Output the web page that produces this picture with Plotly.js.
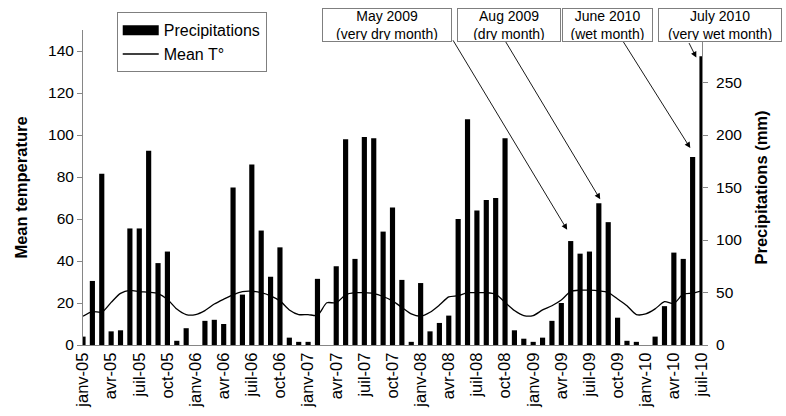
<!DOCTYPE html>
<html>
<head>
<meta charset="utf-8">
<script src="https://cdn.plot.ly/plotly-3.0.1.min.js"></script>
<style>html,body{margin:0;padding:0;background:#fff}#chart{width:786px;height:416px}</style>
</head>
<body>
<div id="chart"></div>
<script>
// Monthly categories Jan 2005 .. Jul 2010
const months = [
 "janv-05","févr-05","mars-05","avr-05","mai-05","juin-05","juil-05","août-05","sept-05","oct-05","nov-05","déc-05",
 "janv-06","févr-06","mars-06","avr-06","mai-06","juin-06","juil-06","août-06","sept-06","oct-06","nov-06","déc-06",
 "janv-07","févr-07","mars-07","avr-07","mai-07","juin-07","juil-07","août-07","sept-07","oct-07","nov-07","déc-07",
 "janv-08","févr-08","mars-08","avr-08","mai-08","juin-08","juil-08","août-08","sept-08","oct-08","nov-08","déc-08",
 "janv-09","févr-09","mars-09","avr-09","mai-09","juin-09","juil-09","août-09","sept-09","oct-09","nov-09","déc-09",
 "janv-10","févr-10","mars-10","avr-10","mai-10","juin-10","juil-10"
];
// Precipitations (mm)
const precipitations = [
 8, 61, 163, 13, 14, 111, 111, 185, 78, 89, 4, 16,
 0, 23, 24, 20, 150, 48, 172, 109, 65, 93, 7, 3,
 3, 63, 0, 75, 196, 82, 198, 197, 108, 131, 62, 3,
 59, 13, 21, 28, 120, 215, 128, 138, 140, 197, 14, 6,
 3, 7, 23, 40, 99, 87, 89, 135, 117, 26, 4, 3,
 0, 8, 37, 88, 82, 179, 275
];
// Mean temperature (°C)
const meanT = [
 13.7, 15.9, 15.6, 20.3, 24.6, 26.0, 25.4, 25.1, 24.5, 21.8, 17.1, 14.5,
 14.5, 16.4, 19.5, 21.8, 23.9, 25.4, 25.6, 24.9, 23.4, 21.0, 16.7, 14.5,
 14.5, 14.1, 20.1, 20.1, 23.9, 24.9, 24.9, 24.5, 23.1, 21.0, 17.9, 14.8,
 13.7, 15.6, 19.0, 22.9, 23.5, 24.9, 24.9, 24.9, 24.2, 20.3, 16.4, 14.0,
 14.0, 16.7, 18.7, 21.4, 25.5, 26.1, 26.1, 25.8, 25.0, 21.9, 18.7, 14.5,
 14.8, 17.2, 20.6, 19.8, 24.2, 24.7, 25.8
];
// Tick labels every 3 months, tick marks every 4 months
const labelMonths = months.filter((m, i) => i % 3 === 0);
const tickMarkIdx = [0,4,8,12,16,20,24,28,32,36,40,44,48,52,56,60,64];
const tempTicks = [0,20,40,60,80,100,120,140];
const precTicks = [0,50,100,150,200,250];

const FONT = "Liberation Sans, Arial, sans-serif";
const AX = "#868686";

const traces = [
 {type:"bar", name:"Precipitations", x:months, y:precipitations, xaxis:"x", yaxis:"y",
  marker:{color:"#000000", line:{width:0}}, width:0.55, showlegend:false},
 // legend entry for the bars, drawn as a wide black block like the original legend key
 {type:"scatter", mode:"lines", name:"Precipitations", x:[null], y:[null], xaxis:"x", yaxis:"y",
  line:{color:"#000000", width:12}, hoverinfo:"skip"},
 {type:"scatter", mode:"lines", name:"Mean T°", x:months, y:meanT, xaxis:"x", yaxis:"y2",
  line:{color:"#000000", width:1.3, shape:"spline", smoothing:0.7}}
];

const W = 618.4, H = 320, L = 83.3, T = 25;
function px(x){return (x - L)/W;}
function py(y){return (T + H - y)/H;}

const boxes = [
 {t:"May 2009<br>(very dry month)", x0:322, x1:452},
 {t:"Aug 2009<br>(dry month)", x0:457, x1:561},
 {t:"June 2010<br>(wet month)", x0:562, x1:653},
 {t:"July 2010<br>(very wet month)", x0:658, x1:782}
];
const arrows = [
 {tx:452, ty:37, hx:567, hy:228},
 {tx:504, ty:37, hx:600, hy:197},
 {tx:622, ty:37, hx:690, hy:145},
 {tx:688, ty:37, hx:696, hy:53}
];
const annotations = [];
arrows.forEach(a => annotations.push({
  xref:"paper", yref:"paper", x:px(a.hx), y:py(a.hy), ax:a.tx-a.hx, ay:a.ty-a.hy,
  text:"", showarrow:true, arrowhead:2, arrowsize:1.3, arrowwidth:0.9, arrowcolor:"#000"
}));
boxes.forEach(b => annotations.push({
  xref:"paper", yref:"paper", x:px((b.x0+b.x1)/2), y:py(3), xanchor:"center", yanchor:"top",
  text:b.t, showarrow:false, width:b.x1-b.x0-4, height:30, borderpad:1,
  bgcolor:"#ffffff", bordercolor:"#7f7f7f", borderwidth:1,
  font:{family:FONT, size:14, color:"#000"}
}));

const layout = {
  width:786, height:416,
  margin:{l:83, r:84, t:25, b:71, pad:0},
  paper_bgcolor:"#fff", plot_bgcolor:"rgba(0,0,0,0)",
  font:{family:FONT, color:"#000"},
  showlegend:true,
  legend:{x:px(117), y:py(7), xanchor:"left", yanchor:"top", bgcolor:"#fff",
    bordercolor:"#7f7f7f", borderwidth:1, font:{family:FONT, size:16, color:"#000"},
    traceorder:"normal", itemwidth:36, tracegroupgap:0},
  bargap:0.45,
  xaxis:{type:"category", range:[0,66], showline:true, linecolor:AX, linewidth:1,
    tickmode:"array", tickvals:labelMonths, ticktext:labelMonths, ticks:"", tickangle:-90,
    tickfont:{family:FONT, size:16.5, color:"#000"}, showgrid:false, zeroline:false, fixedrange:true},
  xaxis2:{overlaying:"x", anchor:"y", type:"linear", range:[0,66], showline:false,
    tickmode:"array", tickvals:tickMarkIdx, ticks:"outside", ticklen:5, tickcolor:AX, tickwidth:1,
    showticklabels:false, showgrid:false, zeroline:false},
  yaxis:{side:"right", range:[0,300], showline:true, linecolor:AX, linewidth:1,
    tickmode:"array", tickvals:precTicks, ticks:"outside", ticklen:5, tickcolor:AX, ticklabelstandoff:5,
    tickfont:{family:FONT, size:15.5, color:"#000"}, showgrid:false, zeroline:false,
    title:{text:"<b>Precipitations (mm)</b>", font:{family:FONT, size:16.5, color:"#000"}, standoff:14}},
  yaxis2:{overlaying:"y", side:"left", anchor:"x", range:[0,150], showline:true, linecolor:AX, linewidth:1,
    tickmode:"array", tickvals:tempTicks, ticks:"outside", ticklen:5, tickcolor:AX,
    tickfont:{family:FONT, size:15.5, color:"#000"}, showgrid:false, zeroline:false,
    title:{text:"<b>Mean temperature</b>", font:{family:FONT, size:16.5, color:"#000"}, standoff:16}},
  annotations:annotations
};

Plotly.newPlot("chart", traces, layout, {displayModeBar:false, staticPlot:true});
</script>
</body>
</html>
